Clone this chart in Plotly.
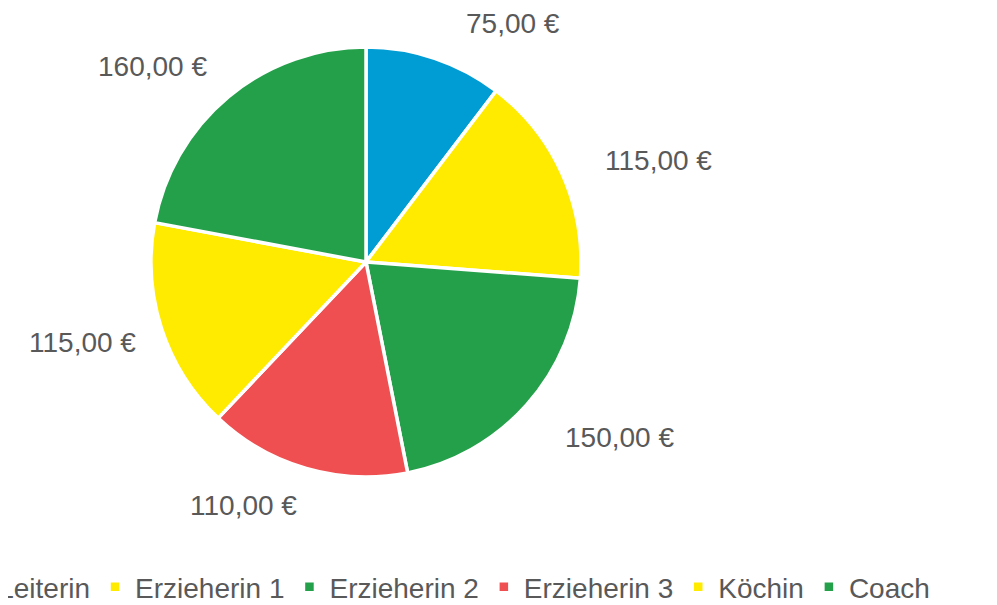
import math
import plotly.graph_objects as go

# ---- data ----
labels = ["Leiterin", "Erzieherin 1", "Erzieherin 2", "Erzieherin 3", "Köchin", "Coach"]
values = [75, 115, 150, 110, 115, 160]
colors = ["#009CD4", "#FFEB00", "#24A04A", "#EF4F50", "#FFEB00", "#24A04A"]

# ---- layout constants ----
W, H = 997, 605
OFF = 8  # default page margin of the html body
FONT = "Liberation Sans, Arial, sans-serif"
TXT = "#595959"
# pie centre / radius in window pixels
PIE_CX, PIE_CY, PIE_R = 366 - OFF, 262 - OFF, 215
dom_x = [(PIE_CX - PIE_R) / W, (PIE_CX + PIE_R) / W]
dom_y = [1 - (PIE_CY + PIE_R) / H, 1 - (PIE_CY - PIE_R) / H]
# small placement nudges (px) for the outside value labels, like Excel's label layout
label_nudge = [(60, 19), (17, 22), (33, -21), (-47, -18), (4, -13), (-28, 28)]


def euro(v):
    s = f"{v:,.2f}".replace(",", "X").replace(".", ",").replace("X", ".")
    return s + " €"


fig = go.Figure(
    go.Pie(
        labels=labels,
        values=values,
        sort=False,
        direction="clockwise",
        rotation=0,
        marker=dict(colors=colors, line=dict(color="white", width=3.5)),
        textinfo="none",
        hoverinfo="label+value",
        domain=dict(x=dom_x, y=dom_y),
    )
)

# value labels placed around the pie, derived from each slice's mid-angle
cx = (dom_x[0] + dom_x[1]) / 2 * W
cy = (1 - (dom_y[0] + dom_y[1]) / 2) * H
R = min((dom_x[1] - dom_x[0]) * W, (dom_y[1] - dom_y[0]) * H) / 2
total = sum(values)
cum = 0
for i, v in enumerate(values):
    mid = (cum + v / 2) / total * 2 * math.pi
    cum += v
    s, c = math.sin(mid), math.cos(mid)
    txt = euro(v)
    hw = 7.3 * len(txt)
    hh = 13
    d = R + 28 + abs(s) * hw + abs(c) * hh
    px = cx + s * d + label_nudge[i][0]
    py = cy - c * d + label_nudge[i][1]
    fig.add_annotation(
        x=px / W, y=1 - py / H, xref="paper", yref="paper",
        text=txt, showarrow=False, xanchor="center", yanchor="middle",
        font=dict(family=FONT, size=28, color=TXT),
    )

fig.update_layout(
    width=W, height=H,
    margin=dict(l=0, r=0, t=0, b=0, autoexpand=False),
    paper_bgcolor="white",
    plot_bgcolor="white",
    showlegend=True,
    legend=dict(
        orientation="h",
        x=0.930, xanchor="right",
        y=(1 - (587 - OFF) / H), yanchor="middle",
        font=dict(family=FONT, size=28, color=TXT),
        itemwidth=30,
        bgcolor="rgba(0,0,0,0)",
    ),
)

fig.write_html("out.html")
